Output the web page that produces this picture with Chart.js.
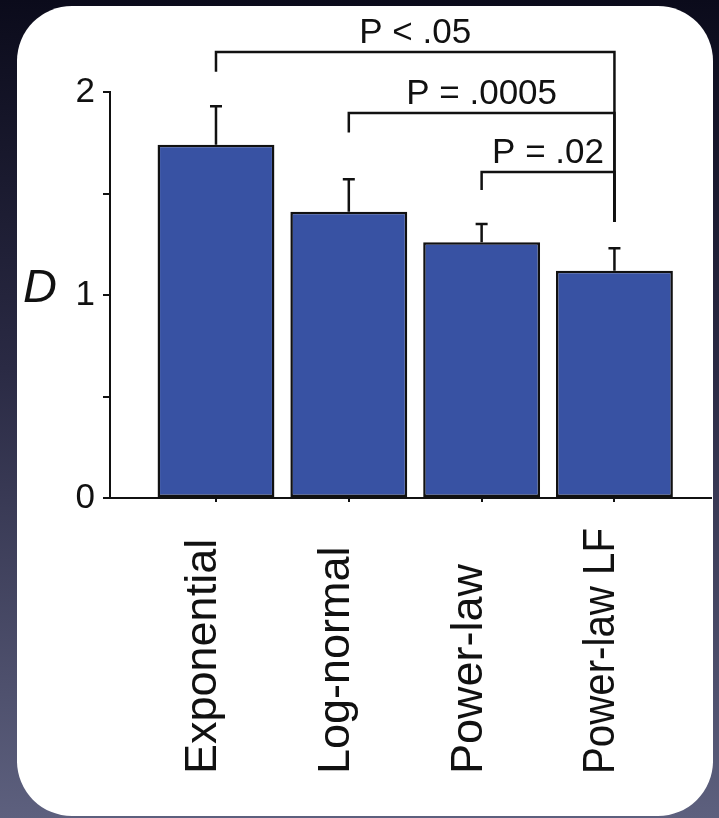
<!DOCTYPE html>
<html>
<head>
<meta charset="utf-8">
<script src="https://cdn.jsdelivr.net/npm/chart.js@4.4.1/dist/chart.umd.min.js"></script>
<style>
  html, body {
    margin: 0;
    width: 719px;
    height: 818px;
    overflow: hidden;
    background: linear-gradient(to bottom, #0b0b1b 0%, #2a2a44 45%, #5d607e 100%);
  }
  #panel {
    position: absolute;
    left: 17px;
    top: 6px;
    width: 696px;
    height: 810px;
    background: #ffffff;
    border-radius: 55px;
  }
  #chart {
    position: absolute;
    left: 0;
    top: 0;
  }
</style>
</head>
<body>
<div id="panel"></div>
<canvas id="chart" width="719" height="818"></canvas>
<script>
"use strict";

// Data
const categories = ["Exponential", "Log-normal", "Power-law", "Power-law LF"];
const meanD = [1.74, 1.41, 1.26, 1.12];
const errorTop = [1.93, 1.57, 1.35, 1.23];
const yTicks = [0, 0.5, 1, 1.5, 2];

// Significance brackets: from bar, to bar, line height, left leg end, label
const bracketFrom = [0, 1, 2];
const bracketTo = [3, 3, 3];
const bracketLevel = [2.197, 1.897, 1.606];
const bracketLegEnd = [2.1, 1.8, 1.517];
const bracketLabels = ["P < .05", "P = .0005", "P = .02"];
const bracketRightEnd = 1.36;

const ink = "#111111";
const barBlue = "#3852a3";

// Error bars (upper only)
const errorBarPlugin = {
  id: "errorBars",
  afterDatasetsDraw(chart) {
    const ctx = chart.ctx;
    const y = chart.scales.y;
    const bars = chart.getDatasetMeta(0).data;
    ctx.save();
    ctx.strokeStyle = ink;
    ctx.lineWidth = 2.5;
    bars.forEach((bar, i) => {
      const top = y.getPixelForValue(errorTop[i]);
      ctx.beginPath();
      ctx.moveTo(bar.x, bar.y);
      ctx.lineTo(bar.x, top);
      ctx.moveTo(bar.x - 6, top);
      ctx.lineTo(bar.x + 6, top);
      ctx.stroke();
    });
    ctx.restore();
  },
};

// Brackets, P labels, D label and rotated category labels
const annotationPlugin = {
  id: "annotations",
  afterDraw(chart) {
    const ctx = chart.ctx;
    const x = chart.scales.x;
    const y = chart.scales.y;
    ctx.save();
    ctx.strokeStyle = ink;
    ctx.fillStyle = ink;
    ctx.lineWidth = 2.5;

    for (let i = 0; i < bracketLabels.length; i++) {
      const x1 = x.getPixelForValue(bracketFrom[i]);
      const x2 = x.getPixelForValue(bracketTo[i]);
      const yl = y.getPixelForValue(bracketLevel[i]);
      ctx.beginPath();
      ctx.moveTo(x1, y.getPixelForValue(bracketLegEnd[i]));
      ctx.lineTo(x1, yl);
      ctx.lineTo(x2, yl);
      ctx.lineTo(x2, y.getPixelForValue(bracketRightEnd));
      ctx.stroke();

      ctx.font = "35px 'Liberation Sans', Arial, sans-serif";
      ctx.textAlign = "center";
      ctx.textBaseline = "alphabetic";
      ctx.fillText(bracketLabels[i], (x1 + x2) / 2, yl - 9);
    }

    // axis name
    ctx.font = "italic 47px 'Liberation Sans', Arial, sans-serif";
    ctx.textAlign = "center";
    ctx.textBaseline = "middle";
    ctx.fillText("D", 40, y.getPixelForValue(1) - 6);

    // category labels, reading bottom to top, squeezed to fit under the axis
    ctx.font = "45px 'Liberation Sans', Arial, sans-serif";
    ctx.textAlign = "left";
    ctx.textBaseline = "alphabetic";
    const labelStart = 774;
    const room = labelStart - (y.bottom + 30);
    categories.forEach((name, i) => {
      ctx.save();
      ctx.translate(x.getPixelForValue(i), labelStart);
      ctx.rotate(-Math.PI / 2);
      ctx.fillText(name, 0, 0, room);
      ctx.restore();
    });
    ctx.restore();
  },
};

const ctx = document.getElementById("chart").getContext("2d");
const chart = new Chart(ctx, {
  type: "bar",
  data: {
    datasets: [
      {
        data: meanD.map((v, i) => ({ x: i, y: v })),
        backgroundColor: barBlue,
        borderColor: ink,
        borderWidth: 2.5,
        borderSkipped: false,
        categoryPercentage: 1,
        barPercentage: 0.88,
      },
    ],
  },
  options: {
    responsive: false,
    animation: false,
    events: [],
    layout: { padding: { top: 92, right: 8, left: 0, bottom: 0 } },
    plugins: {
      legend: { display: false },
      tooltip: { enabled: false },
    },
    scales: {
      x: {
        type: "linear",
        offset: false,
        min: -0.798,
        max: 3.727,
        afterBuildTicks: (scale) => {
          scale.ticks = categories.map((c, i) => ({ value: i }));
        },
        afterFit: (scale) => {
          scale.height = 320;
        },
        ticks: { display: false },
        grid: {
          offset: false,
          drawOnChartArea: false,
          drawTicks: true,
          tickLength: 4,
          color: ink,
          lineWidth: 2,
        },
        border: { color: ink, width: 2 },
      },
      y: {
        min: 0,
        max: 2,
        afterBuildTicks: (scale) => {
          scale.ticks = yTicks.map((v) => ({ value: v }));
        },
        afterFit: (scale) => {
          scale.width = 110;
        },
        ticks: {
          padding: 8,
          color: ink,
          font: { family: "'Liberation Sans', Arial, sans-serif", size: 35 },
          callback: (v) => (Number.isInteger(v) ? String(v) : ""),
        },
        grid: {
          drawOnChartArea: false,
          drawTicks: true,
          tickLength: 7,
          color: ink,
          lineWidth: 2,
        },
        border: { color: ink, width: 2 },
      },
    },
  },
  plugins: [errorBarPlugin, annotationPlugin],
});
</script>
</body>
</html>
